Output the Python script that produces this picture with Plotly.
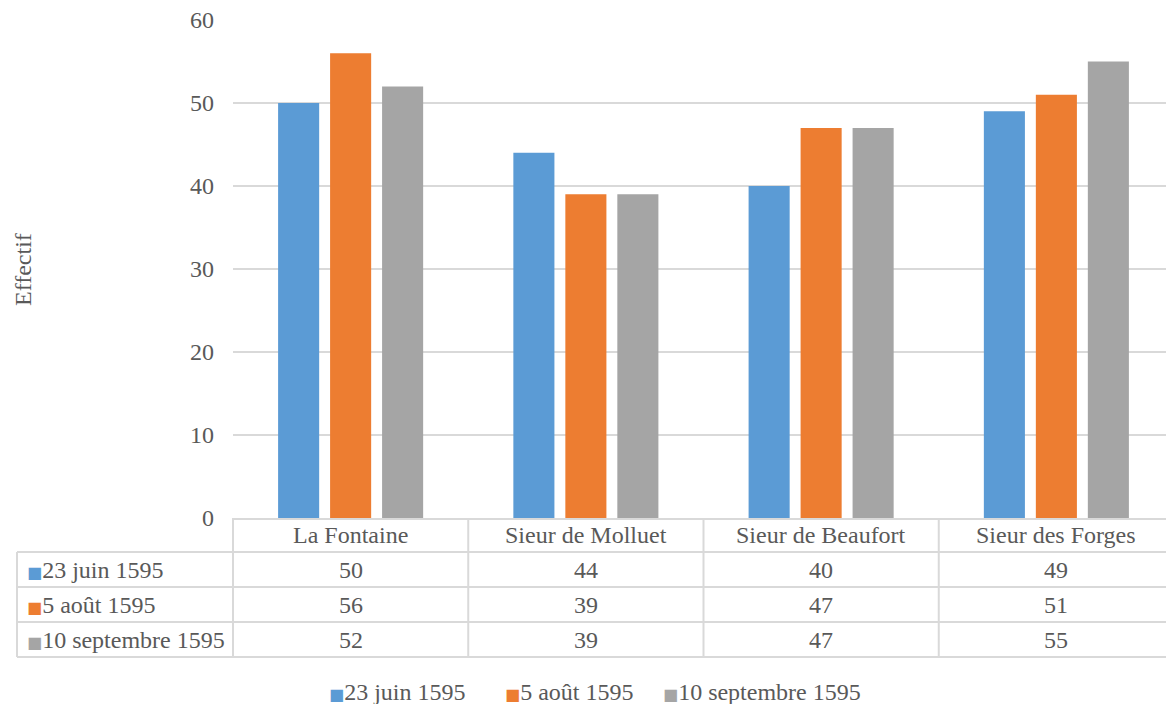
import plotly.graph_objects as go

categories = ['La Fontaine', 'Sieur de Molluet', 'Sieur de Beaufort', 'Sieur des Forges']
series_names = ['23 juin 1595', '5 août 1595', '10 septembre 1595']
juin = [50, 44, 40, 49]
aout = [56, 39, 47, 51]
septembre = [52, 39, 47, 55]
y_ticks = [0, 10, 20, 30, 40, 50, 60]

colors = ['#5b9bd5', '#ed7d31', '#a5a5a5']
grey = '#595959'
line_col = '#d9d9d9'
font_name = 'Liberation Serif'
fs = 24

# page has an 8px body margin, so work in page pixels and shift
OFF = 8
W, H = 1174 - OFF, 704 - OFF
L, R, T, B = 233 - OFF, 0, 20 - OFF, 704 - 518
PH = H - T - B
PW = W - L - R

def py(pix):
    # page pixel row -> paper y
    return (H + OFF - B - pix) / PH

def px(pix):
    return (pix - OFF - L) / PW

fig = go.Figure()
for name, vals, c in zip(series_names, [juin, aout, septembre], colors):
    fig.add_trace(go.Bar(x=categories, y=vals, name=name, marker_color=c,
                         marker_line_width=0, showlegend=False))

shapes = []
# data table grid
for yy in [552, 587, 622, 657]:
    shapes.append(dict(type='line', xref='paper', yref='paper', x0=px(17), x1=1,
                       y0=py(yy), y1=py(yy), line=dict(color=line_col, width=2)))
shapes.append(dict(type='line', xref='paper', yref='paper', x0=px(17), x1=px(17),
                   y0=py(552), y1=py(657), line=dict(color=line_col, width=2)))
shapes.append(dict(type='line', xref='paper', yref='paper', x0=0, x1=0,
                   y0=py(518), y1=py(657), line=dict(color=line_col, width=2)))
for k in range(1, len(categories)):
    shapes.append(dict(type='line', xref='x', yref='paper', x0=k - 0.5, x1=k - 0.5,
                       y0=py(518), y1=py(657), line=dict(color=line_col, width=2)))

def txt(s, **kw):
    d = dict(text=s, showarrow=False, yanchor='middle',
             font=dict(size=fs, color=grey, family=font_name))
    d.update(kw)
    return d

def sq(c):
    return "<span style='color:%s;font-size:16px;font-family:DejaVu Sans'>■</span>" % c

ann = []
row_y = [570, 605, 640]
for cat in categories:
    ann.append(txt(cat, x=cat, y=py(535), xref='x', yref='paper', xanchor='center'))
for r, (name, vals, c) in enumerate(zip(series_names, [juin, aout, septembre], colors)):
    ann.append(txt(sq(c) + name, x=px(25), y=py(row_y[r]), xref='paper', yref='paper',
                   xanchor='left'))
    for cat, v in zip(categories, vals):
        ann.append(txt(str(v), x=cat, y=py(row_y[r]), xref='x', yref='paper',
                       xanchor='center'))
ann.append(txt('Effectif', x=px(23), y=py(270), xref='paper', yref='paper',
               xanchor='center', textangle=-90))
# legend
for name, c, x0 in zip(series_names, colors, [327, 503, 661]):
    ann.append(txt(sq(c) + name, x=px(x0), y=py(692), xref='paper', yref='paper',
                   xanchor='left'))

fig.update_layout(
    width=W, height=H, margin=dict(l=L, r=R, t=T, b=B),
    paper_bgcolor='white', plot_bgcolor='white',
    barmode='group', bargap=0.337, bargroupgap=0.21,
    font=dict(family=font_name, size=fs, color=grey),
    showlegend=False,
    xaxis=dict(showticklabels=False, showgrid=False, showline=True, linecolor=line_col,
               linewidth=2, zeroline=False),
    yaxis=dict(range=[0, 60], tickvals=y_ticks, showgrid=True, gridcolor=line_col,
               gridwidth=2, zeroline=False, showline=False, ticklabelstandoff=18,
               ticklabeloverflow='allow',
               tickfont=dict(size=fs, color=grey, family=font_name)),
    shapes=shapes, annotations=ann,
)

fig.write_html("out.html")
